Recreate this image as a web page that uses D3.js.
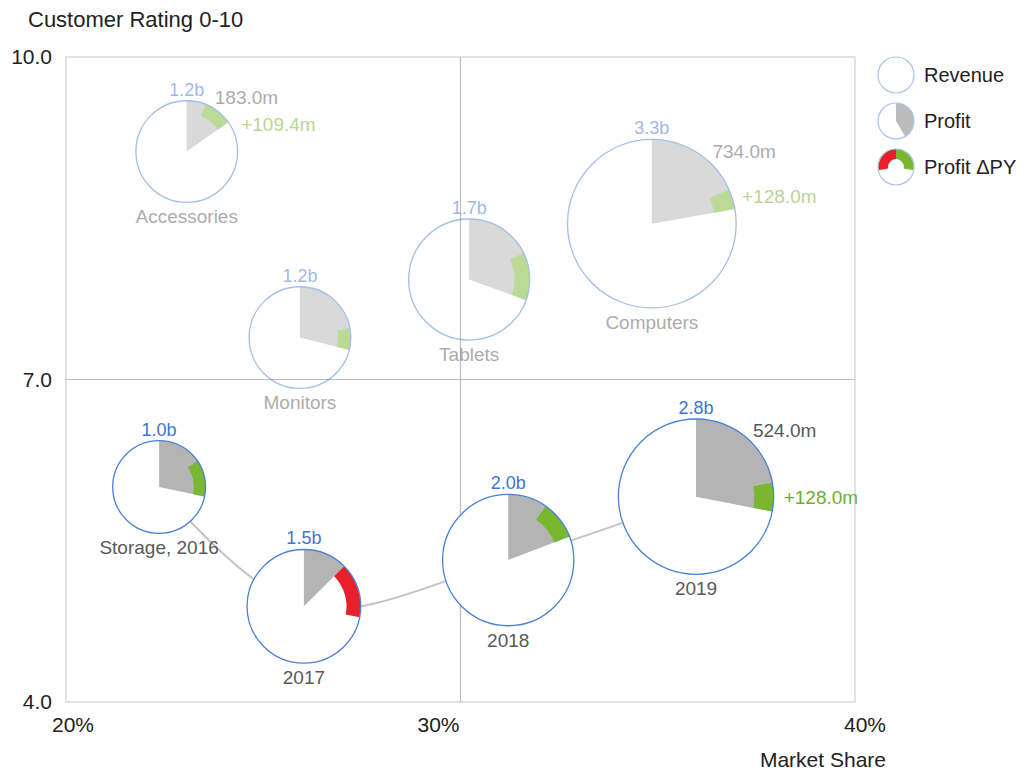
<!DOCTYPE html>
<html>
<head>
<meta charset="utf-8">
<script src="https://cdn.jsdelivr.net/npm/d3@7"></script>
<style>
  body { margin: 0; background: #fff; }
  text { font-family: 'Liberation Sans', Arial, Helvetica, sans-serif; }
</style>
</head>
<body>
<div id="content"></div>
<script>
// bubbles
const names = ['Accessories', 'Monitors', 'Tablets', 'Computers', 'Storage, 2016', '2017', '2018', '2019']
const kinds = ['category', 'category', 'category', 'category', 'year', 'year', 'year', 'year']
const marketShare = [23.06, 25.93, 30.22, 34.85, 22.36, 26.03, 31.21, 35.97]   // %
const rating = [9.12, 7.39, 7.93, 8.45, 6.00, 4.89, 5.32, 5.91]
const revenue = [1.2, 1.2, 1.7, 3.3, 1.0, 1.5, 2.0, 2.8]                       // b
const profit = [183, 347, 519, 734, 283, 188, 383, 786]                         // m
const profitDeltaPY = [109.4, 83, 217, 128, 128, -233, 190, 167]                // m
const profitLabels = ['183.0m', null, null, '734.0m', null, null, null, '524.0m']
const deltaLabels = ['+109.4m', null, null, '+128.0m', null, null, null, '+128.0m']

const xTicks = [20, 30, 40]
const yTicks = [4, 7, 10]
const legendItems = ['Revenue', 'Profit', 'Profit \u0394PY']

const width = 1026
const height = 774
const margin = { left: 66, top: 57, right: 171, bottom: 72 }

const blue = '#4a80d6'
const blueText = '#3f76cc'
const lightBlue = '#a9c4ec'
const wedgeGray = '#b4b4b4'
const green = '#7ab730'
const greenText = '#72ad2c'
const red = '#e8202a'
const labelGray = '#595959'

const svg = d3.select('#content')
    .append('svg')
    .attr('width', width)
    .attr('height', height)

const scaleX = d3.scaleLinear()
    .domain([20, 40])
    .range([margin.left, width - margin.right])

const scaleY = d3.scaleLinear()
    .domain([4, 10])
    .range([height - margin.bottom, margin.top])

const scaleRadius = d3.scaleSqrt()
    .domain([0, 3.3])
    .range([0, 84.3])

const data = names.map((name, i) => ({
    name: name,
    kind: kinds[i],
    x: scaleX(marketShare[i]),
    y: scaleY(rating[i]),
    r: scaleRadius(revenue[i]),
    revenue: revenue[i],
    profitAngle: profit[i] / (revenue[i] * 1000) * 2 * Math.PI,
    deltaAngle: profitDeltaPY[i] / (revenue[i] * 1000) * 2 * Math.PI,
    profitLabel: profitLabels[i],
    deltaLabel: deltaLabels[i]
}))

// frame and quadrant lines
svg.append('rect')
    .attr('x', scaleX(20))
    .attr('y', scaleY(10))
    .attr('width', scaleX(40) - scaleX(20))
    .attr('height', scaleY(4) - scaleY(10))
    .attr('fill', 'none')
    .attr('stroke', '#d0d0d0')
    .attr('stroke-width', 1.2)

svg.append('line')
    .attr('x1', scaleX(30)).attr('x2', scaleX(30))
    .attr('y1', scaleY(10)).attr('y2', scaleY(4))
    .attr('stroke', '#bdbdbd')
    .attr('stroke-width', 1.2)

svg.append('line')
    .attr('x1', scaleX(20)).attr('x2', scaleX(40))
    .attr('y1', scaleY(7)).attr('y2', scaleY(7))
    .attr('stroke', '#bdbdbd')
    .attr('stroke-width', 1.2)

// axes text
svg.append('text')
    .text('Customer Rating 0-10')
    .attr('x', 28)
    .attr('y', 27)
    .attr('font-size', 22)
    .attr('fill', '#222')

svg.selectAll('.ytick')
    .data(yTicks)
    .join('text')
    .attr('class', 'ytick')
    .text(d => d3.format('.1f')(d))
    .attr('x', scaleX(20) - 14)
    .attr('y', d => scaleY(d))
    .attr('dy', '0.35em')
    .attr('text-anchor', 'end')
    .attr('font-size', 21)
    .attr('fill', '#222')

svg.selectAll('.xtick')
    .data(xTicks)
    .join('text')
    .attr('class', 'xtick')
    .text(d => `${d}%`)
    .attr('x', (d, i) => i === 0 ? scaleX(d) - 14 : i === 1 ? scaleX(d) - 1 : scaleX(d) + 31)
    .attr('y', scaleY(4) + 30)
    .attr('text-anchor', (d, i) => i === 0 ? 'start' : 'end')
    .attr('font-size', 21)
    .attr('fill', '#222')

svg.append('text')
    .text('Market Share')
    .attr('x', scaleX(40) + 31)
    .attr('y', height - 7)
    .attr('text-anchor', 'end')
    .attr('font-size', 21)
    .attr('fill', '#222')

// storage trail through the years
const years = data.filter(d => d.kind === 'year')
svg.append('path')
    .attr('d', d3.line().x(d => d.x).y(d => d.y).curve(d3.curveCatmullRom.alpha(0.5))(years))
    .attr('fill', 'none')
    .attr('stroke', '#c4c4c4')
    .attr('stroke-width', 2)

const arc = d3.arc()

const drawBubble = (g, d) => {
    const isYear = d.kind === 'year'
    const inner = d.r * 0.75

    g.append('circle')
        .attr('r', d.r)
        .attr('fill', isYear ? '#fff' : 'none')

    g.append('path')
        .attr('d', arc({ innerRadius: 0, outerRadius: d.r, startAngle: 0, endAngle: d.profitAngle }))
        .attr('fill', wedgeGray)

    let a0, a1
    if (d.deltaAngle >= 0) {
        a0 = d.profitAngle - d.deltaAngle
        a1 = d.profitAngle
    } else {
        a0 = d.profitAngle
        a1 = d.profitAngle - d.deltaAngle
    }
    g.append('path')
        .attr('d', arc({ innerRadius: inner, outerRadius: d.r, startAngle: a0, endAngle: a1 }))
        .attr('fill', d.deltaAngle >= 0 ? green : red)

    g.append('circle')
        .attr('r', d.r)
        .attr('fill', 'none')
        .attr('stroke', blue)
        .attr('stroke-width', 1.3)

    g.append('text')
        .text(`${d3.format('.1f')(d.revenue)}b`)
        .attr('y', -d.r - 5)
        .attr('text-anchor', 'middle')
        .attr('font-size', 18)
        .attr('fill', blueText)

    g.append('text')
        .text(d.name)
        .attr('y', d.r + 21)
        .attr('text-anchor', 'middle')
        .attr('font-size', 19)
        .attr('fill', labelGray)

    const R = d.r + 10
    let py = null
    if (d.profitLabel) {
        // middle of the wedge, but not lower than the upper right corner
        const pa = Math.min(d.profitAngle / 2, Math.PI * 0.225)
        py = -R * Math.cos(pa)
        g.append('text')
            .text(d.profitLabel)
            .attr('x', R * Math.sin(pa))
            .attr('y', py)
            .attr('dy', '0.35em')
            .attr('font-size', 19)
            .attr('fill', labelGray)
    }
    if (d.deltaLabel) {
        // keep the delta label clear of the profit label
        let da = (a0 + a1) / 2
        while (py !== null && -R * Math.cos(da) < py + 26 && da < Math.PI) {
            da += Math.PI / 180
        }
        g.append('text')
            .text(d.deltaLabel)
            .attr('x', R * Math.sin(da))
            .attr('y', -R * Math.cos(da))
            .attr('dy', '0.35em')
            .attr('font-size', 19)
            .attr('fill', d.deltaAngle >= 0 ? greenText : red)
    }
}

const bubbles = svg.append('g').attr('id', 'bubbles')

bubbles.selectAll('g')
    .data(data)
    .join('g')
    .attr('transform', d => `translate(${d.x}, ${d.y})`)
    .attr('opacity', d => d.kind === 'year' ? 1 : 0.5)
    .each(function (d) { drawBubble(d3.select(this), d) })

// legend
const legend = svg.append('g')
    .attr('id', 'legend')
    .attr('transform', `translate(${width - margin.right + 41}, 75)`)

const legendRows = legend.selectAll('g')
    .data(legendItems)
    .join('g')
    .attr('transform', (d, i) => `translate(0, ${i * 46})`)

legendRows.filter((d, i) => i === 1)
    .append('path')
    .attr('d', arc({ innerRadius: 0, outerRadius: 18, startAngle: 0, endAngle: Math.PI * 0.83 }))
    .attr('fill', '#bbb')

legendRows.filter((d, i) => i === 2)
    .append('path')
    .attr('d', arc({ innerRadius: 8, outerRadius: 18, startAngle: -Math.PI * 0.56, endAngle: 0 }))
    .attr('fill', red)

legendRows.filter((d, i) => i === 2)
    .append('path')
    .attr('d', arc({ innerRadius: 8, outerRadius: 18, startAngle: 0, endAngle: Math.PI * 0.56 }))
    .attr('fill', green)

legendRows.append('circle')
    .attr('r', 18)
    .attr('fill', 'none')
    .attr('stroke', lightBlue)
    .attr('stroke-width', 1.2)

legendRows.append('text')
    .text(d => d)
    .attr('x', 28)
    .attr('dy', '0.35em')
    .attr('font-size', 20)
    .attr('fill', '#222')
</script>
</body>
</html>
